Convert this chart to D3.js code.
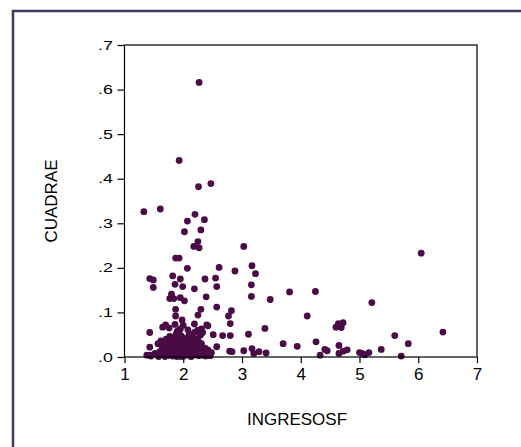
<!DOCTYPE html>
<html>
<head>
<meta charset="utf-8">
<script src="https://cdn.jsdelivr.net/npm/d3@7"></script>
<style>
  body { margin: 0; background: #fff; }
  text { font-family: Arial, "Liberation Sans", sans-serif; }
</style>
</head>
<body>
<div id="scatter"></div>
<script>
// Values (INGRESOSF on x, CUADRAE on y)
let ingresosf = [
    2.27, 1.93, 2.26, 2.47, 1.33, 1.61, 2.20, 2.07, 2.36, 2.02, 2.30, 2.25, 2.18, 2.27, 3.03, 6.05,
    1.87, 1.93, 2.07, 2.61, 2.88, 3.17, 3.23, 1.43, 1.49, 1.49, 1.82, 1.95, 1.86, 1.99, 2.19, 2.37,
    2.55, 2.57, 3.16, 3.16, 3.48, 3.81, 4.25, 5.21, 1.80, 1.77, 1.84, 1.95, 2.02, 2.39, 2.30, 2.57,
    1.87, 2.82, 2.77, 2.25, 1.87, 4.11, 1.98, 2.19, 2.80, 1.86, 1.70, 1.65, 4.66, 4.60, 4.72, 4.69,
    4.64, 2.42, 2.31, 3.39, 1.43, 6.42, 2.51, 2.67, 2.80, 3.11, 5.60, 5.83, 3.70, 3.94, 4.26, 4.65,
    4.79, 4.72, 4.65, 4.41, 4.45, 4.33, 5.37, 5.00, 5.04, 5.09, 5.16, 5.71, 3.03, 3.17, 3.20, 3.29,
    3.41, 2.79, 2.83, 2.57, 1.43, 1.38, 1.44,
    2.08, 2.25, 1.90, 2.33, 2.12, 1.76, 2.00, 1.95, 2.29, 2.40,
    1.45, 1.52, 1.57, 1.60, 1.62, 1.64, 1.66, 1.68, 1.70, 1.71, 1.73, 1.74, 1.75, 1.76, 1.77, 1.78,
    1.79, 1.80, 1.80, 1.81, 1.82, 1.83, 1.84, 1.85, 1.85, 1.86, 1.87, 1.88, 1.88, 1.89, 1.90, 1.90,
    1.91, 1.92, 1.93, 1.94, 1.94, 1.95, 1.96, 1.97, 1.98, 1.99, 2.00, 2.01, 2.02, 2.03, 2.04, 2.06,
    2.07, 2.08, 2.09, 2.10, 2.11, 2.12, 2.14, 2.15, 2.16, 2.17, 2.18, 2.19, 2.20, 2.21, 2.22, 2.24,
    2.25, 2.26, 2.27, 2.28, 2.29, 2.30, 2.31, 2.32, 2.33, 2.35, 2.37, 2.38, 2.40, 2.42, 2.44, 2.46,
    2.48, 1.58, 1.69, 1.96, 2.13
];
let cuadrae = [
    0.616, 0.441, 0.382, 0.389, 0.326, 0.332, 0.320, 0.305, 0.308, 0.281, 0.285, 0.259, 0.248, 0.245, 0.248, 0.233,
    0.222, 0.222, 0.199, 0.201, 0.193, 0.205, 0.187, 0.176, 0.173, 0.156, 0.182, 0.175, 0.163, 0.158, 0.153, 0.175,
    0.177, 0.158, 0.162, 0.136, 0.129, 0.146, 0.147, 0.122, 0.141, 0.131, 0.131, 0.133, 0.126, 0.135, 0.107, 0.112,
    0.107, 0.104, 0.092, 0.094, 0.092, 0.092, 0.083, 0.074, 0.075, 0.073, 0.072, 0.067, 0.069, 0.067, 0.077, 0.066,
    0.075, 0.070, 0.063, 0.064, 0.055, 0.056, 0.050, 0.048, 0.048, 0.051, 0.048, 0.030, 0.030, 0.024, 0.034, 0.026,
    0.016, 0.013, 0.008, 0.017, 0.014, 0.004, 0.017, 0.010, 0.008, 0.005, 0.010, 0.002, 0.014, 0.019, 0.008, 0.012,
    0.009, 0.013, 0.012, 0.023, 0.022, 0.004, 0.004,
    0.061, 0.060, 0.058, 0.055, 0.051, 0.065, 0.071, 0.063, 0.049, 0.072,
    0.002, 0.008, 0.030, 0.012, 0.036, 0.022, 0.005, 0.028, 0.015, 0.040, 0.003, 0.020, 0.033, 0.010, 0.046, 0.025,
    0.006, 0.017, 0.038, 0.030, 0.002, 0.012, 0.044, 0.022, 0.034, 0.007, 0.015, 0.052, 0.028, 0.001, 0.019, 0.040,
    0.010, 0.031, 0.058, 0.004, 0.024, 0.014, 0.037, 0.047, 0.008, 0.027, 0.018, 0.002, 0.035, 0.011, 0.023, 0.042,
    0.005, 0.030, 0.016, 0.050, 0.009, 0.026, 0.038, 0.002, 0.020, 0.045, 0.012, 0.031, 0.056, 0.006, 0.024, 0.040,
    0.015, 0.003, 0.033, 0.010, 0.050, 0.021, 0.030, 0.004, 0.014, 0.008, 0.020, 0.002, 0.012, 0.016, 0.006, 0.003,
    0.010, 0.001, 0.001, 0.001, 0.001
];
let xTicks = [1, 2, 3, 4, 5, 6, 7];
let yTicks = [0, 0.1, 0.2, 0.3, 0.4, 0.5, 0.6, 0.7];
let yTickLabels = [".0", ".1", ".2", ".3", ".4", ".5", ".6", ".7"];

let width = 521;
let height = 447;
let margin = { top: 45, right: 44, bottom: 90, left: 124.5 };
let chartWidth = width - margin.left - margin.right;
let chartHeight = height - margin.top - margin.bottom;

let data = ingresosf.map((x, i) => ({ x: x, y: cuadrae[i] }));

let svg = d3.select("#scatter")
    .append("svg")
    .attr("width", width)
    .attr("height", height);

// Outer frame (only left and top edges show)
svg.append("path")
    .attr("d", `M13,${height} V11 H${width}`)
    .attr("fill", "none")
    .attr("stroke", "#46385f")
    .attr("stroke-width", 2.5);

let chartGroup = svg.append("g")
    .attr("transform", `translate(${margin.left}, ${margin.top})`);

let xScale = d3.scaleLinear().domain([1, 7]).range([0, chartWidth]);
let yScale = d3.scaleLinear().domain([0, 0.7]).range([chartHeight, 0]);

// Points first, box and axes on top
chartGroup.append("g").selectAll("circle")
    .data(data)
    .enter()
    .append("circle")
    .attr("cx", d => xScale(d.x))
    .attr("cy", d => yScale(d.y))
    .attr("r", 3.4)
    .attr("fill", "#4a0b46");

chartGroup.append("rect")
    .attr("width", chartWidth)
    .attr("height", chartHeight)
    .attr("fill", "none")
    .attr("stroke", "#000")
    .attr("stroke-width", 1.2);

let xAxis = d3.axisBottom(xScale).tickValues(xTicks).tickFormat(d3.format("d"))
    .tickSize(6).tickPadding(5);
let yAxis = d3.axisLeft(yScale).tickValues(yTicks)
    .tickFormat((d, i) => yTickLabels[i]).tickSize(7).tickPadding(4);

let gx = chartGroup.append("g")
    .attr("transform", `translate(0, ${chartHeight})`)
    .call(xAxis);
gx.select(".domain").remove();
gx.selectAll("line").attr("stroke", "#000").attr("stroke-width", 1.2);
gx.selectAll("text").attr("font-size", "17px").attr("fill", "#000")
    .style("font-family", "Arial, 'Liberation Sans', sans-serif");

let gy = chartGroup.append("g").call(yAxis);
gy.select(".domain").remove();
gy.selectAll("line").attr("stroke", "#000").attr("stroke-width", 1.2);
// labels look squat in the original
gy.selectAll("text").attr("font-size", "17px").attr("fill", "#000")
    .attr("transform", "scale(1.05, 0.75)")
    .style("font-family", "Arial, 'Liberation Sans', sans-serif");

// Axis titles
svg.append("text")
    .attr("transform", `translate(57, 201) rotate(-90)`)
    .attr("text-anchor", "middle")
    .attr("font-size", "17px")
    .attr("fill", "#000")
    .text("CUADRAE");

svg.append("text")
    .attr("x", 297)
    .attr("y", 425)
    .attr("text-anchor", "middle")
    .attr("font-size", "17px")
    .attr("fill", "#000")
    .text("INGRESOSF");
</script>
</body>
</html>
